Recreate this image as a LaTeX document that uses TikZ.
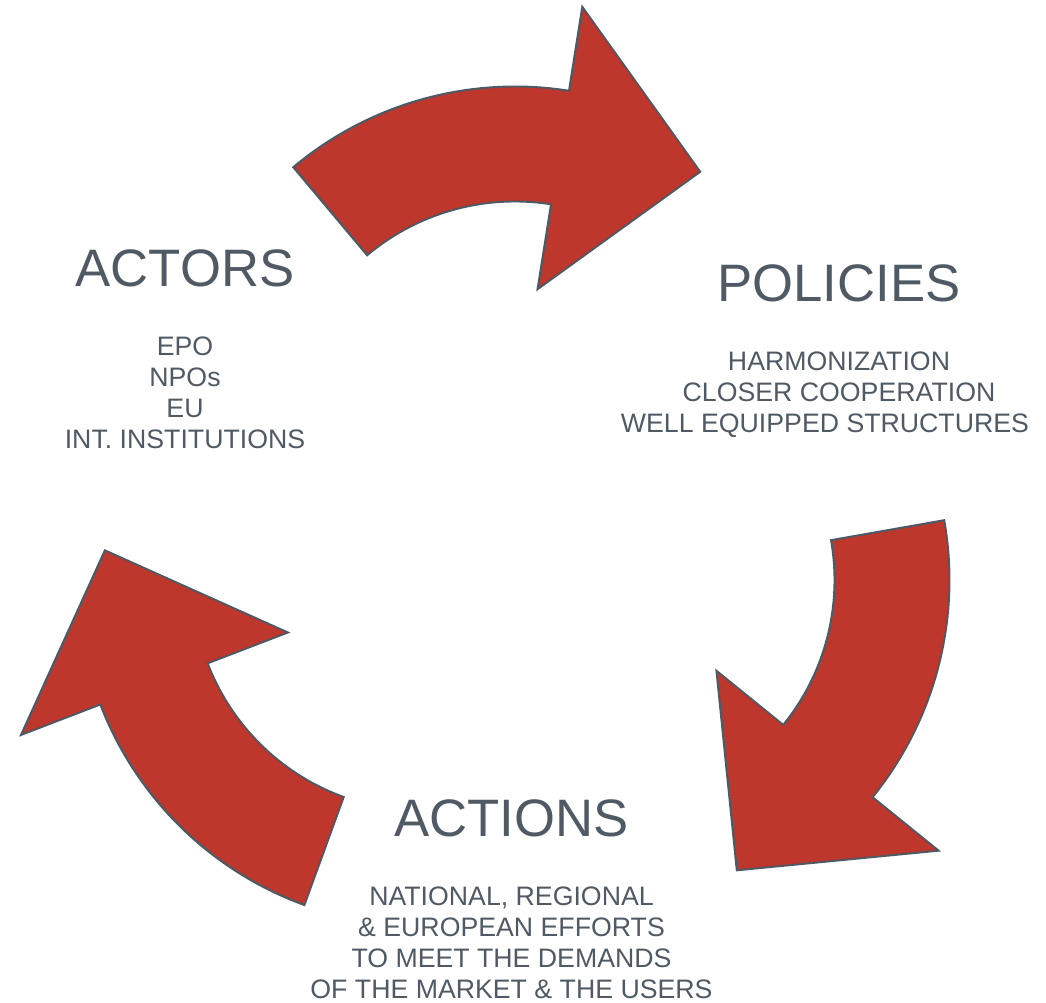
\documentclass[tikz,border=0pt]{standalone}
\usepackage{xcolor}
\usepackage{fontspec}
\setmainfont{Liberation Sans}
\usepackage{tikz}
\usetikzlibrary{positioning}
\definecolor{cyclered}{HTML}{BD372C}
\definecolor{slateline}{HTML}{4D5A65}
\definecolor{slatetext}{HTML}{4F5A64}

\begin{document}
\begin{tikzpicture}[x=0.02cm, y=0.02cm,
    title/.style={font=\fontsize{30}{36}\selectfont, text=slatetext, inner sep=0pt},
    detail/.style={font=\fontsize{15.2}{17.7}\selectfont, text=slatetext, align=center, inner sep=0pt},
    bigarrow/.style={fill=cyclered, draw=slateline, line width=1.1pt, line join=miter},
    cyclearrow/.pic={
        \draw[bigarrow] (130:345) arc[start angle=130, end angle=81, radius=345]
            -- (81:430) -- (54.5:319) -- (81:144) -- (81:230)
            arc[start angle=81, end angle=130, radius=230] -- cycle;
    },
]
\useasboundingbox (0,0) rectangle (1046,1003);
% three arrows turning round the cycle
\pic at (515,571.5) {cyclearrow};
\pic[rotate=-120] at (604.5,422.9) {cyclearrow};
\pic[rotate=120]  at (422.4,422.1) {cyclearrow};
\node[title, anchor=base] (actors)   at (185,716)   {ACTORS};
\node[title, anchor=base] (policies) at (839,701.3) {POLICIES};
\node[title, anchor=base] (actions)  at (511.5,166.3) {ACTIONS};
\node[detail, below=0.97cm of actors]   (actorsdet)   {EPO\\NPOs\\EU\\INT. INSTITUTIONS};
\node[detail, below=0.97cm of policies] (policiesdet) {HARMONIZATION\\CLOSER COOPERATION\\WELL EQUIPPED STRUCTURES\hspace*{0.56cm}};
\node[detail, below=0.97cm of actions]  (actionsdet)  {NATIONAL, REGIONAL\\\& EUROPEAN EFFORTS\\TO MEET THE DEMANDS\\OF THE MARKET \& THE USERS};
\end{tikzpicture}
\end{document}
